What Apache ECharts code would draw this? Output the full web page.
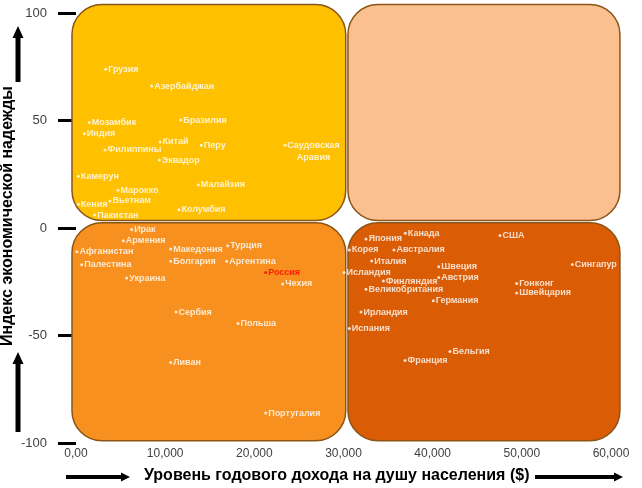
<!DOCTYPE html>
<html>
<head>
<meta charset="utf-8">
<script src="https://cdn.jsdelivr.net/npm/echarts@6/dist/echarts.min.js"></script>
<style>
html,body{margin:0;padding:0;background:#fff;}
#chart{width:642px;height:488px;}
</style>
</head>
<body>
<div id="chart"></div>
<script>
// ---- data ----
const countries = [
  'Грузия','Азербайджан','Мозамбик','Бразилия','Индия','Китай','Перу','Саудовская\nАравия',
  'Филиппины','Эквадор','Камерун','Малайзия','Марокко','Кения','Вьетнам','Колумбия','Пакистан',
  'Ирак','Армения','Афганистан','Македония','Турция','Палестина','Болгария','Аргентина','Россия',
  'Украина','Чехия','Сербия','Польша','Ливан','Португалия',
  'Япония','Канада','США','Корея','Австралия','Италия','Сингапур','Швеция','Исландия','Австрия',
  'Финляндия','Гонконг','Великобритания','Швейцария','Германия','Ирландия','Испания','Бельгия','Франция'
];
const income = [
  3330, 8490, 1490, 11740, 930, 9420, 14050, 23440,
  3250, 9340, 260, 13720, 4710, 260, 3810, 11550, 2090,
  6240, 5310, 100, 10620, 17010, 640, 10620, 16900, 21270,
  5680, 23180, 11215, 18170, 10620, 21270,
  32520, 36930, 47550, 30650, 35660, 33160, 55660, 40680, 30060, 40680,
  34470, 49420, 32520, 49420, 40070, 31960, 30650, 41940, 36900
];
const hopeIndex = [
  73.8, 66, 49.1, 50.2, 43.8, 40.0, 38.5, 38.5,
  36.3, 31.6, 24.1, 20.0, 17.6, 11.1, 12.6, 8.5, 6.0,
  -0.7, -5.9, -11.0, -9.8, -8.3, -17.1, -15.5, -15.5, -20.7,
  -23.3, -26.0, -39.1, -44.4, -62.5, -86.1,
  -5.1, -2.4, -3.5, -10.2, -10.2, -15.4, -17.0, -18.0, -20.7, -23.0,
  -24.7, -25.8, -28.5, -30.2, -33.8, -39.1, -46.7, -57.4, -61.6
];
const highlighted = 'Россия';
const xTickLabels = ['0,00','10,000','20,000','30,000','40,000','50,000','60,000'];
const yTickValues = [-100, -50, 0, 50, 100];
// quadrant backgrounds: [xFrom, xTo, yFrom, yTo]
const quadrants = [
  [-450, 30250, 3.5, 104],
  [30500, 61000, 3.5, 104],
  [-450, 30250, -99, 2.5],
  [30500, 61000, -99, 2.5]
];
const quadrantColors = ['#FFC000', '#FAC090', '#F7901E', '#DA5C04'];

// ---- chart ----
const chart = echarts.init(document.getElementById('chart'), null, {renderer: 'canvas'});

const points = countries.map((c, i) => {
  const isHi = c === highlighted;
  const item = {
    name: c,
    value: [income[i], hopeIndex[i]],
    itemStyle: {color: isHi ? '#FF0000' : '#FFFFFF'},
    label: {color: isHi ? '#FF0000' : '#FFFFFF'}
  };
  if (c.indexOf('\n') >= 0) {
    item.label = {color: '#FFFFFF', align: 'center', offset: [26, 6], lineHeight: 12};
  }
  return item;
});

function arrowUp(cx, yTop, yBottom) {
  return [
    {type: 'rect', shape: {x: cx - 2.5, y: yTop + 10, width: 5, height: yBottom - yTop - 10}, style: {fill: '#000'}},
    {type: 'polygon', shape: {points: [[cx, yTop], [cx - 5.5, yTop + 12], [cx + 5.5, yTop + 12]]}, style: {fill: '#000'}}
  ];
}
function arrowRight(cy, xLeft, xRight) {
  return [
    {type: 'rect', shape: {x: xLeft, y: cy - 2, width: xRight - xLeft - 8, height: 4}, style: {fill: '#000'}},
    {type: 'polygon', shape: {points: [[xRight, cy], [xRight - 9, cy - 4.5], [xRight - 9, cy + 4.5]]}, style: {fill: '#000'}}
  ];
}

const option = {
  backgroundColor: '#FFFFFF',
  animation: false,
  grid: {left: 76, right: 31, top: 13, bottom: 45, containLabel: false},
  xAxis: {
    type: 'value', min: 0, max: 60000, interval: 10000,
    axisLine: {show: false}, axisTick: {show: false}, splitLine: {show: false},
    axisLabel: {
      margin: 5, color: '#404040', fontSize: 12, fontFamily: 'Liberation Sans, Arial, sans-serif',
      formatter: v => xTickLabels[Math.round(v / 10000)]
    }
  },
  yAxis: {
    type: 'value', min: -100, max: 100, interval: 50, offset: 6,
    axisLine: {show: false},
    axisTick: {show: true, length: 18, lineStyle: {color: '#000', width: 3}},
    splitLine: {show: false},
    axisLabel: {
      margin: 23, color: '#404040', fontSize: 13, fontFamily: 'Liberation Sans, Arial, sans-serif',
      formatter: v => (yTickValues.indexOf(v) >= 0 ? String(v) : '')
    }
  },
  graphic: [
    {
      type: 'text', left: 0, top: 86, rotation: Math.PI / 2,
      style: {text: 'Индекс экономической надежды', fill: '#000', font: 'bold 16px "Liberation Sans", Arial, sans-serif'}
    },
    {
      type: 'text', left: 144, top: 468,
      style: {text: 'Уровень годового дохода на душу населения ($)', fill: '#000', font: 'bold 16px "Liberation Sans", Arial, sans-serif'}
    },
    ...arrowUp(18, 26, 82),
    ...arrowUp(18, 352, 432),
    ...arrowRight(477, 66, 130),
    ...arrowRight(477, 535, 623)
  ],
  series: [
    {
      type: 'custom',
      clip: false,
      silent: true,
      z: 1,
      encode: {x: [0, 1], y: [2, 3]},
      data: quadrants,
      renderItem: function (params, api) {
        const p0 = api.coord([api.value(0), api.value(3)]);
        const p1 = api.coord([api.value(1), api.value(2)]);
        return {
          type: 'rect',
          shape: {x: p0[0], y: p0[1], width: p1[0] - p0[0], height: p1[1] - p0[1], r: 30},
          style: {fill: quadrantColors[params.dataIndex], stroke: '#8C5518', lineWidth: 1.5}
        };
      }
    },
    {
      type: 'scatter',
      z: 5,
      symbol: 'circle',
      symbolSize: 3,
      data: points,
      label: {
        show: true, position: 'right', distance: 1,
        formatter: p => p.name,
        fontSize: 9, fontWeight: 'bold', fontFamily: 'Liberation Sans, Arial, sans-serif'
      }
    }
  ]
};
chart.setOption(option);
</script>
</body>
</html>
